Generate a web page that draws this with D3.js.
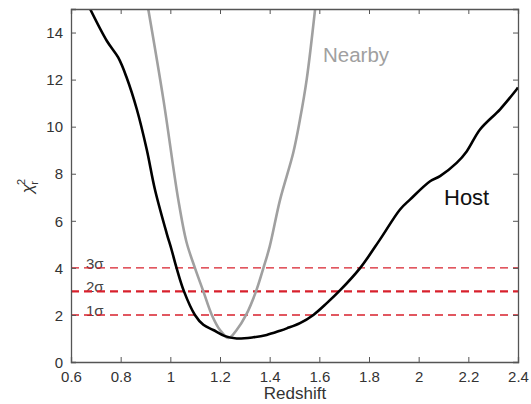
<!DOCTYPE html>
<html><head><meta charset="utf-8">
<script src="https://cdn.jsdelivr.net/npm/d3@7/dist/d3.min.js"></script>
<style>
body{margin:0;background:#fff;}
svg{display:block;font-family:"Liberation Sans",Arial,Helvetica,sans-serif;}
</style></head>
<body><svg id="c" width="531" height="404"></svg>
<script>
const hostX = [0.677,0.744,0.790,0.824,0.865,0.905,0.938,0.985,1.005,1.025,1.055,1.099,1.133,1.173,1.220,1.267,1.334,1.388,1.442,1.469,1.522,1.576,1.630,1.683,1.764,1.844,1.925,1.965,2.046,2.086,2.153,2.194,2.247,2.328,2.395,2.400];
const hostY = [15.0,13.65,12.94,12.09,10.74,9.03,7.33,5.48,4.77,4.0,3.0,2.0,1.58,1.36,1.10,1.0,1.05,1.15,1.33,1.43,1.65,2.0,2.5,3.04,3.99,5.2,6.48,6.9,7.68,7.9,8.46,8.96,9.88,10.74,11.59,11.66];
const nearbyX = [0.911,0.972,1.032,1.065,1.099,1.133,1.167,1.200,1.235,1.267,1.305,1.345,1.375,1.400,1.442,1.495,1.522,1.549,1.583];
const nearbyY = [15.0,11.16,6.9,5.1,4.0,3.0,2.0,1.36,1.02,1.36,2.0,3.0,4.0,4.9,6.9,8.89,10.3,12.0,15.0];
const sigmaLevels = [2,3,4];
const sigmaLabels = ["1σ","2σ","3σ"];
const xTicks = [0.6,0.8,1,1.2,1.4,1.6,1.8,2,2.2,2.4];
const yTicks = [0,2,4,6,8,10,12,14];

const L=71,R=518,T=9,B=362;
const svg=d3.select("#c");
const x=d3.scaleLinear().domain([0.6,2.4]).range([L,R]);
const y=d3.scaleLinear().domain([0,15]).range([B,T]);

svg.append("defs").append("clipPath").attr("id","clip").append("rect")
  .attr("x",L).attr("y",T).attr("width",R-L).attr("height",B-T);

// sigma lines
const sg=svg.append("g");
sigmaLevels.forEach((v,i)=>{
  sg.append("text").attr("x",86).attr("y",y(v)+1).text(sigmaLabels[i])
    .attr("font-size",15).attr("fill","#444");
  sg.append("line").attr("x1",L).attr("x2",R).attr("y1",y(v)).attr("y2",y(v))
    .attr("stroke","#d8202c").attr("stroke-width",i===1?2.2:1.4)
    .attr("stroke-dasharray","8,5");
});

// curves
const line=d3.line().x(d=>x(d[0])).y(d=>y(d[1])).curve(d3.curveCatmullRom.alpha(0.5));
const g=svg.append("g").attr("clip-path","url(#clip)");
g.append("path").datum(nearbyX.map((v,i)=>[v,nearbyY[i]])).attr("d",line)
  .attr("fill","none").attr("stroke","#a0a0a0").attr("stroke-width",2.6);
g.append("path").datum(hostX.map((v,i)=>[v,hostY[i]])).attr("d",line)
  .attr("fill","none").attr("stroke","#000").attr("stroke-width",2.6);

// axes
const ac="#555";
const xa=svg.append("g").attr("transform",`translate(0,${B})`)
  .call(d3.axisBottom(x).tickValues(xTicks).tickSize(-5).tickPadding(9).tickFormat(d3.format("~g")));
const xt=svg.append("g").attr("transform",`translate(0,${T})`)
  .call(d3.axisTop(x).tickValues(xTicks).tickSize(-5).tickFormat(""));
const ya=svg.append("g").attr("transform",`translate(${L},0)`)
  .call(d3.axisLeft(y).tickValues(yTicks).tickSize(-5).tickPadding(8).tickFormat(d3.format("~g")));
const yr=svg.append("g").attr("transform",`translate(${R},0)`)
  .call(d3.axisRight(y).tickValues(yTicks).tickSize(-5).tickFormat(""));
[xa,xt,ya,yr].forEach(a=>{
  a.selectAll("path.domain").attr("stroke",ac).attr("stroke-width",1.3);
  a.selectAll("line").attr("stroke",ac);
  a.selectAll("text").attr("font-size",15).attr("fill","#333").attr("font-family","'Liberation Sans',Arial,sans-serif");
});
ya.selectAll("text").attr("dy","0.35em");

// labels
svg.append("text").attr("x",295).attr("y",399).attr("text-anchor","middle")
  .attr("font-size",17).attr("fill","#333").text("Redshift");
const yl=svg.append("text").attr("transform","translate(33,186) rotate(-90)")
  .attr("text-anchor","middle").attr("font-size",17).attr("fill","#333");
yl.append("tspan").text("χ").attr("font-style","italic");
yl.append("tspan").text("2").attr("font-size",11).attr("dy",-8).attr("dx",-1);
yl.append("tspan").text("r").attr("font-size",11).attr("dy",13).attr("dx",-6);

svg.append("text").attr("x",323).attr("y",62).attr("font-size",20.5).attr("fill","#a0a0a0").text("Nearby");
svg.append("text").attr("x",444).attr("y",205).attr("font-size",22).attr("fill","#111").text("Host");
</script></body></html>
